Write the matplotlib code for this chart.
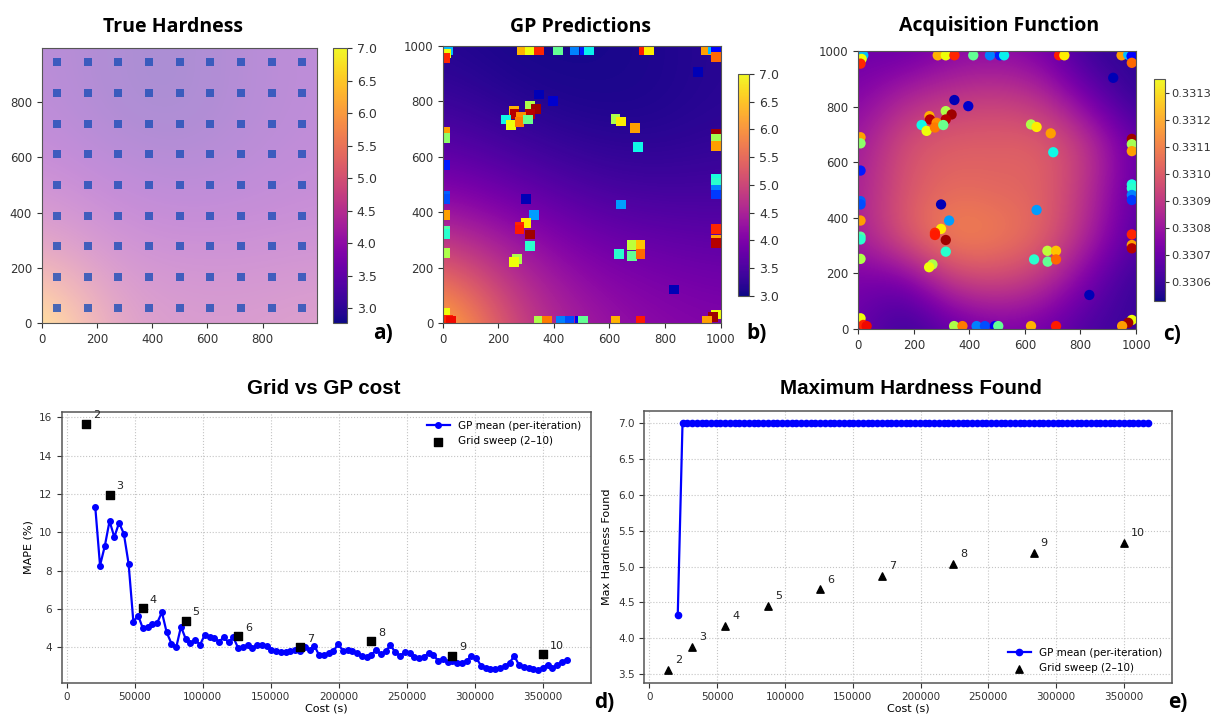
import numpy as np
import matplotlib.pyplot as plt
from matplotlib import cm
from matplotlib.colors import Normalize

# ---------------- data ----------------
# grid-sweep sample centres used in the "True Hardness" panel
grid_centres = [56, 167, 278, 389, 500, 611, 722, 833, 944]

# coarse read-off of the background fields (rows: y = 0 .. 1000)
field_axis = [0, 250, 500, 750, 1000]
true_hardness = [
    [7.0, 4.7, 4.4, 4.4, 4.55],
    [4.8, 4.2, 4.1, 4.1, 4.15],
    [4.1, 3.8, 3.6, 3.7, 3.85],
    [3.7, 3.3, 3.2, 3.5, 3.7],
    [3.6, 3.3, 3.2, 3.5, 3.7],
]
gp_pred = [
    [6.6, 5.0, 4.4, 4.15, 4.05],
    [5.0, 4.5, 4.0, 3.85, 3.75],
    [3.95, 3.7, 3.45, 3.35, 3.4],
    [3.4, 3.2, 3.1, 3.1, 3.2],
    [3.15, 3.05, 3.05, 3.1, 3.2],
]
acq_axis = [0, 167, 333, 500, 667, 833, 1000]
acq_values = [
    [0.33070, 0.33058, 0.33066, 0.33072, 0.33070, 0.33062, 0.33060],
    [0.33072, 0.33068, 0.33090, 0.33094, 0.33088, 0.33070, 0.33058],
    [0.33082, 0.33100, 0.33113, 0.33110, 0.33103, 0.33084, 0.33064],
    [0.33082, 0.33098, 0.33104, 0.33102, 0.33102, 0.33087, 0.33066],
    [0.33080, 0.33097, 0.33101, 0.33101, 0.33102, 0.33090, 0.33068],
    [0.33074, 0.33085, 0.33090, 0.33092, 0.33088, 0.33070, 0.33057],
    [0.33070, 0.33068, 0.33074, 0.33076, 0.33072, 0.33058, 0.33058],
]

# GP sample locations and their colour level (jet, 0..1)
sample_x = [18, 12, 8, 286, 315, 346, 414, 474, 510, 525, 723, 742, 948, 972, 984, 985,
            918, 346, 396, 315, 336, 315, 256, 258, 228, 246, 282, 276, 306,
            622, 642, 693, 702, 985, 985, 985, 985, 985, 985, 985, 985, 985, 985,
            985, 972, 950, 8, 8, 8, 8, 8, 8, 8, 8, 8, 8, 18, 30,
            298, 327, 298, 276, 276, 315, 315, 267, 255,
            642, 681, 712, 633, 682, 712, 832,
            345, 375, 426, 456, 492, 504, 622, 712]
sample_y = [985, 972, 955, 985, 985, 985, 985, 985, 985, 985, 985, 985, 985, 987, 982, 958,
            904, 824, 802, 784, 772, 754, 766, 754, 734, 713, 742, 725, 734,
            736, 727, 704, 636, 684, 665, 640, 520, 506, 482, 464, 340, 302, 290,
            32, 22, 10, 690, 668, 570, 460, 448, 390, 332, 322, 252, 38, 14, 10,
            448, 390, 360, 346, 338, 320, 278, 232, 222,
            428, 281, 281, 250, 242, 250, 122,
            10, 10, 10, 10, 10, 10, 10, 10]
sample_level = [0.31, 0.64, 0.87, 0.72, 0.64, 0.87, 0.47, 0.25, 0.15, 0.36, 0.88, 0.66, 0.74, 0.31, 0.12, 0.80,
                0.05, 0.05, 0.07, 0.56, 0.97, 0.95, 0.72, 0.95, 0.37, 0.64, 0.76, 0.78, 0.48,
                0.56, 0.66, 0.74, 0.37, 0.97, 0.55, 0.74, 0.38, 0.40, 0.25, 0.18, 0.87, 0.74, 0.95,
                0.64, 0.97, 0.74, 0.74, 0.52, 0.15, 0.22, 0.20, 0.74, 0.45, 0.40, 0.56, 0.64, 0.87, 0.90,
                0.05, 0.28, 0.66, 0.87, 0.88, 0.97, 0.40, 0.56, 0.64,
                0.28, 0.58, 0.70, 0.40, 0.47, 0.80, 0.05,
                0.56, 0.78, 0.25, 0.20, 0.10, 0.47, 0.72, 0.88]

# grid sweep (2-10 points per side)
grid_n = [2, 3, 4, 5, 6, 7, 8, 9, 10]
grid_cost = [14000, 31500, 56000, 87500, 126000, 171500, 224000, 283500, 350000]
grid_mape = [15.65, 11.97, 6.04, 5.40, 4.58, 4.00, 4.32, 3.55, 3.64]
grid_maxh = [3.55, 3.87, 4.17, 4.45, 4.68, 4.87, 5.04, 5.19, 5.33]

# GP per-iteration (cost = number of samples x 3500 s)
n_samples = np.arange(6, 106)
gp_cost = n_samples * 3500
gp_mape = [11.32, 8.27, 9.28, 10.59, 9.75, 10.50, 9.93, 8.36, 5.34, 5.66,
           4.99, 5.05, 5.22, 5.28, 5.83, 4.78, 4.20, 4.00, 5.08, 4.44,
           4.23, 4.39, 4.14, 4.65, 4.52, 4.47, 4.30, 4.52, 4.26, 4.52,
           3.97, 4.00, 4.10, 3.95, 4.12, 4.14, 4.05, 3.86, 3.79, 3.74,
           3.77, 3.79, 3.85, 3.82, 4.03, 3.86, 4.09, 3.60, 3.62, 3.69,
           3.79, 4.18, 3.83, 3.86, 3.83, 3.69, 3.57, 3.51, 3.62, 3.86,
           3.65, 3.79, 4.12, 3.74, 3.57, 3.74, 3.71, 3.52, 3.42, 3.51,
           3.69, 3.62, 3.30, 3.40, 3.22, 3.30, 3.17, 3.19, 3.30, 3.55,
           3.45, 3.05, 2.90, 2.85, 2.85, 2.92, 3.02, 3.20, 3.55, 3.08,
           2.98, 2.90, 2.85, 2.80, 2.95, 3.10, 2.92, 3.08, 3.25, 3.36]
gp_maxh = [4.33] + [7.0] * 99

# ---------------- figure ----------------
fig = plt.figure(figsize=(12.15, 7.15), dpi=100)
W, H = 1215, 715


def px_axes(l, t, r, b):
    return fig.add_axes([l / W, 1 - b / H, (r - l) / W, (b - t) / H])


def node_extent(axis):
    step = axis[1] - axis[0]
    return [axis[0] - step / 2, axis[-1] + step / 2, axis[0] - step / 2, axis[-1] + step / 2]


title_font = dict(family='Open Sans', weight='bold', size=14)

# a) true hardness
ax_a = px_axes(41.7, 48, 316.5, 323.3)
ax_a.imshow(true_hardness, origin='lower', extent=node_extent(field_axis), cmap='plasma',
            vmin=2.77, vmax=7.0, alpha=0.45, interpolation='bicubic')
gx, gy = np.meshgrid(grid_centres, grid_centres)
ax_a.scatter(gx.ravel(), gy.ravel(), marker='s', s=28, color='#1d4fb8', alpha=0.8, lw=0)
ax_a.set_xlim(0, 995)
ax_a.set_ylim(0, 995)
ax_a.set_xticks([0, 200, 400, 600, 800])
ax_a.set_yticks([0, 200, 400, 600, 800])
cax_a = px_axes(333, 48, 347, 323.3)
cb = fig.colorbar(cm.ScalarMappable(Normalize(2.77, 7.0), 'plasma'), cax=cax_a)
cb.set_ticks(np.arange(3.0, 7.01, 0.5))
fig.text(173 / W, 1 - 27 / H, 'True Hardness', ha='center', va='center', **title_font)

# b) GP predictions
ax_b = px_axes(442.7, 45.7, 720.7, 323.3)
ax_b.imshow(gp_pred, origin='lower', extent=node_extent(field_axis), cmap='plasma',
            vmin=3, vmax=7, interpolation='bicubic')
ax_b.scatter(sample_x, sample_y, c=sample_level, cmap='jet', vmin=0, vmax=1,
             marker='s', s=50, lw=0)
ax_b.set_xlim(0, 1000)
ax_b.set_ylim(0, 1000)
cax_b = px_axes(738, 74, 749.5, 295.7)
cb = fig.colorbar(cm.ScalarMappable(Normalize(3, 7), 'plasma'), cax=cax_b)
cb.set_ticks(np.arange(3.0, 7.01, 0.5))
fig.text(581 / W, 1 - 27 / H, 'GP Predictions', ha='center', va='center', **title_font)

# c) acquisition function
ax_c = px_axes(858.3, 51, 1136, 329)
ax_c.imshow(acq_values, origin='lower', extent=node_extent(acq_axis), cmap='plasma',
            vmin=0.33053, vmax=0.33135, interpolation='bicubic')
ax_c.scatter(sample_x, sample_y, c=sample_level, cmap='jet', vmin=0, vmax=1,
             marker='o', s=55, lw=0)
ax_c.set_xlim(0, 1000)
ax_c.set_ylim(0, 1000)
cax_c = px_axes(1154, 79, 1164.5, 301)
cb = fig.colorbar(cm.ScalarMappable(Normalize(0.33053, 0.33135), 'plasma'), cax=cax_c)
cb.set_ticks(np.arange(0.3306, 0.33135, 0.0001))
cb.ax.set_yticklabels(['%.4f' % t for t in np.arange(0.3306, 0.33135, 0.0001)])
fig.text(999 / W, 1 - 26 / H, 'Acquisition Function', ha='center', va='center', **title_font)

for ax in (ax_a, ax_b, ax_c):
    ax.tick_params(labelsize=8.5, colors='#333333')
for ax in (cax_a, cax_b):
    ax.tick_params(labelsize=9, colors='#333333')
cax_c.tick_params(labelsize=8.2, colors='#333333', length=3, pad=2)
for ax in (ax_a, ax_b, ax_c, cax_a, cax_b, cax_c):
    for s in ax.spines.values():
        s.set_color('#555555')

# d) grid vs GP cost
bottom_title = dict(family='Liberation Sans', weight='bold', size=14.8)
ax_d = px_axes(61.7, 411.7, 590.7, 682.7)
ax_d.plot(gp_cost, gp_mape, '-o', color='#0000ff', ms=4, lw=1.6, label='GP mean (per-iteration)')
ax_d.scatter(grid_cost, grid_mape, marker='s', s=26, color='black', zorder=3, label='Grid sweep (2–10)')
for n, x, y in zip(grid_n, grid_cost, grid_mape):
    ax_d.annotate(str(n), (x, y), xytext=(5, 4), textcoords='offset points', fontsize=8, color='#222222')
ax_d.set_ylabel('MAPE (%)', fontsize=8)
ax_d.set_xlabel('Cost (s)', fontsize=8, labelpad=1)
ax_d.legend(loc='upper right', frameon=False, fontsize=7.5, handlelength=2.2)
fig.text(324 / W, 1 - 388 / H, 'Grid vs GP cost', ha='center', va='center', **bottom_title)

# e) maximum hardness found
ax_e = px_axes(644.3, 411, 1171.7, 682.7)
ax_e.plot(gp_cost, gp_maxh, '-o', color='#0000ff', ms=4.5, lw=1.6, label='GP mean (per-iteration)')
ax_e.scatter(grid_cost, grid_maxh, marker='^', s=28, color='black', zorder=3, label='Grid sweep (2–10)')
for n, x, y in zip(grid_n, grid_cost, grid_maxh):
    ax_e.annotate(str(n), (x, y), xytext=(5, 5), textcoords='offset points', fontsize=8, color='#222222')
ax_e.set_ylabel('Max Hardness Found', fontsize=8)
ax_e.set_xlabel('Cost (s)', fontsize=8, labelpad=1)
ax_e.legend(loc='lower right', frameon=False, fontsize=7.5, handlelength=2.2)
fig.text(911 / W, 1 - 388 / H, 'Maximum Hardness Found', ha='center', va='center', **bottom_title)

for ax in (ax_d, ax_e):
    ax.grid(True, linestyle=':', color='#c4c4c4', lw=0.8)
    ax.set_axisbelow(True)
    ax.tick_params(labelsize=7.5, colors='#333333')
    for s in ax.spines.values():
        s.set_color('#555555')
        s.set_linewidth(1.1)

# panel letters
letter = dict(family='Open Sans', weight='bold', size=15, ha='center', va='center')
fig.text(383 / W, 1 - 333 / H, 'a)', **letter)
fig.text(757 / W, 1 - 333 / H, 'b)', **letter)
fig.text(1172 / W, 1 - 335 / H, 'c)', **letter)
fig.text(604 / W, 1 - 703 / H, 'd)', **letter)
fig.text(1178 / W, 1 - 703 / H, 'e)', **letter)

fig.savefig('out.png', dpi=100)
